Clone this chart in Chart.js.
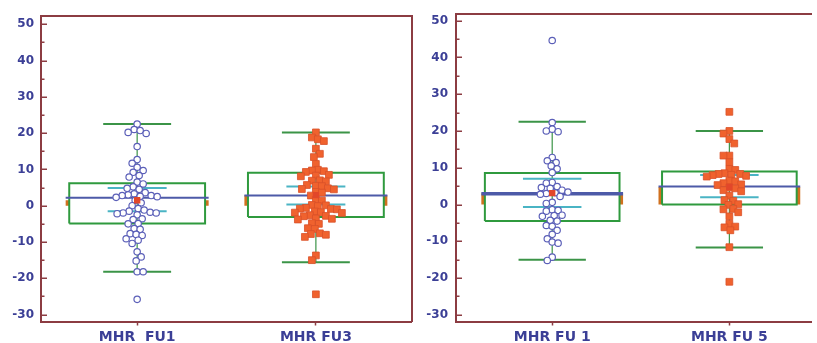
<!DOCTYPE html>
<html><head><meta charset="utf-8">
<script src="https://cdn.jsdelivr.net/npm/chart.js@4.4.0/dist/chart.umd.min.js"></script>
<style>
html,body{margin:0;padding:0;background:#fff;overflow:hidden;width:817px;height:343px;}
#c1{position:absolute;left:0;top:0;}
#c2{position:absolute;left:410px;top:0;}
</style></head><body>
<canvas id="c1" width="430" height="343"></canvas>
<canvas id="c2" width="407" height="343"></canvas>
<script>
// ---------- DATA ----------
const leftCategories = ['MHR  FU1', 'MHR FU3'];
const rightCategories = ['MHR FU 1', 'MHR FU 5'];
const yTickValues = [-30,-25,-20,-15,-10,-5,0,5,10,15,20,25,30,35,40,45,50];

const fu1Values = [22.5,21.0,20.7,20.2,19.9,16.3,12.7,11.7,10.6,9.7,9.2,8.3,7.9,6.5,6.0,5.2,4.8,4.5,3.6,3.3,3.0,2.8,2.8,2.6,2.5,2.3,1.5,0.8,0.0,-0.8,-1.2,-1.5,-1.8,-2.0,-2.0,-2.2,-2.5,-3.6,-3.8,-4.9,-5.0,-6.3,-6.5,-7.7,-7.9,-8.2,-9.1,-9.5,-10.4,-12.7,-14.1,-15.2,-18.2,-18.2,-25.8];
const fu3Values = [20.2,18.8,18.3,17.8,15.7,14.3,13.4,11.5,9.9,9.7,9.5,9.3,8.5,8.3,8.1,7.0,6.9,6.7,5.7,5.5,5.4,4.8,4.6,4.5,3.8,3.6,2.8,1.6,1.4,0.2,0.1,-0.1,-0.6,-0.8,-0.9,-1.0,-1.6,-1.8,-1.9,-2.0,-2.6,-2.8,-2.9,-3.5,-3.6,-3.8,-4.8,-5.0,-6.2,-6.4,-7.6,-7.8,-8.0,-8.6,-13.7,-15.0,-24.4];
const fu1bValues = [44.6,22.3,20.5,20.0,19.8,12.8,11.9,11.4,10.5,9.7,8.7,6.0,5.8,4.9,4.6,4.4,3.9,3.4,3.2,3.0,2.8,2.2,0.6,0.3,-1.4,-1.6,-1.8,-2.9,-3.0,-3.2,-4.3,-4.5,-5.7,-5.9,-7.0,-8.1,-9.3,-10.2,-10.5,-14.3,-15.2];
const fu5Values = [25.2,20.0,19.3,17.8,16.6,13.3,13.3,11.5,9.7,9.4,8.5,8.3,8.3,8.1,8.0,7.8,7.6,6.5,6.3,5.8,5.5,5.3,4.6,4.4,3.9,3.6,2.4,1.2,1.0,0.1,-0.1,-1.2,-1.3,-2.1,-3.2,-5.2,-6.0,-6.2,-7.0,-11.6,-21.0];

// box statistics per group: [lower whisker, Q1, median, Q3, upper whisker]
const leftBoxes = [[-18.2,-4.9,2.2,6.2,22.5],[-15.6,-3.1,2.8,9.1,20.2]];
const rightBoxes = [[-15.0,-4.5,2.9,8.6,22.5],[-11.7,0.0,4.9,9.0,20.0]];
// mean and 95% CI of the mean
const leftMeans = [1.5, 2.9];
const leftCiLow = [-1.5, 0.3];
const leftCiHigh = [4.9, 5.3];
const rightMeans = [3.1, 4.8];
const rightCiLow = [-0.7, 2.0];
const rightCiHigh = [7.0, 8.0];

// ---------- STYLE ----------
const AXIS = '#8c3c42';
const LABEL = '#3b3f96';
const BOX = '#2f9a3e';
const WHISK = '#3b9447';
const MEDIAN = '#4d5aa8';
const CI = '#4ab4c4';
const MEANBAR = '#d0701f';
const FONT = '"DejaVu Sans", Verdana, sans-serif';
const BAR_HW = 0.40, BOX_HW = 0.38, CAP_HW = 0.19, CI_HW = 0.165;

function swarm(values, pxX, pxY, d) {
  const placed = [], out = new Array(values.length);
  const idx = values.map((v, i) => i).sort((a, b) => values[b] - values[a]);
  let flip = 1;
  for (const i of idx) {
    const y = values[i] * pxY;
    let best = 0;
    for (let k = 0; k < 400; k++) {
      const off = k === 0 ? 0 : ((k % 2 ? -1 : 1) * flip) * Math.ceil(k / 2);
      let ok = true;
      for (const p of placed) {
        const dx = p.x - off, dy = p.y - y;
        if (dx * dx + dy * dy < d * d) { ok = false; break; }
      }
      if (ok) { best = off; break; }
    }
    if (best !== 0) flip = -flip;
    placed.push({x: best, y});
    out[i] = best / pxX;
  }
  return out;
}

function seg(x0, y0, x1, y1) { return [{x: x0, y: y0}, {x: x1, y: y1}]; }
function rect(x0, x1, y0, y1) { return [{x:x0,y:y0},{x:x1,y:y0},{x:x1,y:y1},{x:x0,y:y1},{x:x0,y:y0}]; }

function lineDs(data, color, width, order, fillColor) {
  return {type: 'line', data, borderColor: color, borderWidth: width, pointRadius: 0,
    backgroundColor: fillColor || 'transparent', fill: fillColor ? 'shape' : false,
    tension: 0, order, xAxisID: 'x', yAxisID: 'y'};
}

const innerTicks = {
  id: 'innerTicks',
  afterDraw(chart) {
    const {ctx, chartArea, scales: {y}} = chart;
    ctx.save();
    ctx.strokeStyle = AXIS; ctx.lineWidth = 1.5;
    y.ticks.forEach(t => {
      const py = Math.round(y.getPixelForValue(t.value)) + 0.25;
      const len = t.value % 10 === 0 ? 6 : 3.5;
      ctx.beginPath(); ctx.moveTo(chartArea.left, py); ctx.lineTo(chartArea.left + len, py); ctx.stroke();
    });
    ctx.restore();
  }
};

function buildChart(id, p) {
  const datasets = [];
  p.groups.forEach((vals, i) => {
    const c = i + 1;
    const [lo, q1, med, q3, hi] = p.boxes[i];
    datasets.push(lineDs(rect(c - BAR_HW, c + BAR_HW, 0, p.means[i]), MEANBAR, 0, 12, MEANBAR));
    datasets.push(lineDs(rect(c - BOX_HW, c + BOX_HW, q1, q3), BOX, 2, 11, '#ffffff'));
    datasets.push(lineDs(seg(c, lo, c, hi), WHISK, 1.2, 10));
    datasets.push(lineDs(seg(c - CAP_HW, hi, c + CAP_HW, hi), WHISK, 2, 9));
    datasets.push(lineDs(seg(c - CAP_HW, lo, c + CAP_HW, lo), WHISK, 2, 9));
    datasets.push(lineDs(seg(c - CI_HW, p.ciLow[i], c + CI_HW, p.ciLow[i]), CI, 2, 8));
    datasets.push(lineDs(seg(c - CI_HW, p.ciHigh[i], c + CI_HW, p.ciHigh[i]), CI, 2, 8));
    datasets.push(lineDs(seg(c - BAR_HW, med, c + BAR_HW, med), MEDIAN, p.medianWidths[i], 7));
    const jit = swarm(vals, p.pxX, p.pxY, 6);
    const ps = p.pointStyles[i];
    datasets.push({type: 'scatter', data: vals.map((v, k) => ({x: c + jit[k], y: v})),
      pointStyle: ps.style, pointRadius: ps.radius, borderWidth: ps.bw,
      borderColor: ps.border, backgroundColor: ps.fill, order: 2, xAxisID: 'x', yAxisID: 'y'});
    datasets.push({type: 'scatter', data: [{x: c, y: p.means[i]}], pointStyle: 'rect', pointRadius: 4.5,
      borderWidth: 0, backgroundColor: '#e2472a', order: 1, xAxisID: 'x', yAxisID: 'y'});
  });
  const scales = {
    x: {type: 'linear', position: 'bottom', min: p.xMin, max: p.xMax,
      afterBuildTicks: s => { s.ticks = p.categories.map((_, i) => ({value: i + 1})); },
      afterFit: s => { s.height = p.bottomH; },
      ticks: {callback: v => p.categories[Math.round(v) - 1], color: LABEL, padding: 3,
        font: {family: FONT, size: 14, weight: 'bold'}, maxRotation: 0, autoSkip: false},
      grid: {display: true, drawOnChartArea: false, drawTicks: true, tickLength: 4, tickColor: AXIS, tickWidth: 1.5},
      border: {display: true, color: AXIS, width: 2}},
    x2: {type: 'linear', position: 'top', min: p.xMin, max: p.xMax,
      afterFit: s => { s.height = p.topH; },
      ticks: {display: false}, grid: {display: false, drawTicks: false},
      border: {display: true, color: AXIS, width: 2}},
    y: {type: 'linear', position: 'left', min: p.yMin, max: p.yMax,
      afterBuildTicks: s => { s.ticks = yTickValues.map(v => ({value: v})); },
      afterFit: s => { s.width = p.leftW; },
      ticks: {callback: v => (v % 10 === 0 ? String(v) : ''), color: LABEL, padding: p.labelPad,
        font: {family: FONT, size: 12, weight: 'bold', lineHeight: 1}, autoSkip: false},
      grid: {display: false, drawTicks: false},
      border: {display: true, color: AXIS, width: 2}}
  };
  if (p.rightW) {
    scales.y2 = {type: 'linear', position: 'right', min: p.yMin, max: p.yMax,
      afterFit: s => { s.width = p.rightW; },
      ticks: {display: false}, grid: {display: false, drawTicks: false},
      border: {display: true, color: AXIS, width: 2}};
  }
  new Chart(document.getElementById(id), {
    type: 'scatter',
    data: {datasets},
    options: {
      responsive: false, animation: false, devicePixelRatio: 1,
      layout: {padding: 0},
      plugins: {legend: {display: false}, tooltip: {enabled: false}},
      scales
    },
    plugins: [innerTicks]
  });
}

const circleStyle = {style: 'circle', radius: 3.2, bw: 1.2, border: '#5b5fb8', fill: '#ffffff'};
const squareStyle = {style: 'rect', radius: 4.8, bw: 0.8, border: '#d9502a', fill: '#f0622e'};

buildChart('c1', {
  categories: leftCategories, groups: [fu1Values, fu3Values], boxes: leftBoxes,
  means: leftMeans, ciLow: leftCiLow, ciHigh: leftCiHigh,
  pointStyles: [circleStyle, squareStyle], medianWidths: [2, 2],
  xMin: 0.462, xMax: 2.535, yMin: -31.9, yMax: 52.4,
  leftW: 41, rightW: 18.5, topH: 15.5, bottomH: 21.5, labelPad: 7,
  pxX: 178.5, pxY: 3.63
});
buildChart('c2', {
  categories: rightCategories, groups: [fu1bValues, fu5Values], boxes: rightBoxes,
  means: rightMeans, ciLow: rightCiLow, ciHigh: rightCiHigh,
  pointStyles: [circleStyle, squareStyle], medianWidths: [3.5, 2],
  xMin: 0.457, xMax: 2.463, yMin: -31.8, yMax: 51.8,
  leftW: 46, rightW: 0, topH: 12.5, bottomH: 21.5, labelPad: 8,
  pxX: 180, pxY: 3.696
});
</script>
</body></html>
